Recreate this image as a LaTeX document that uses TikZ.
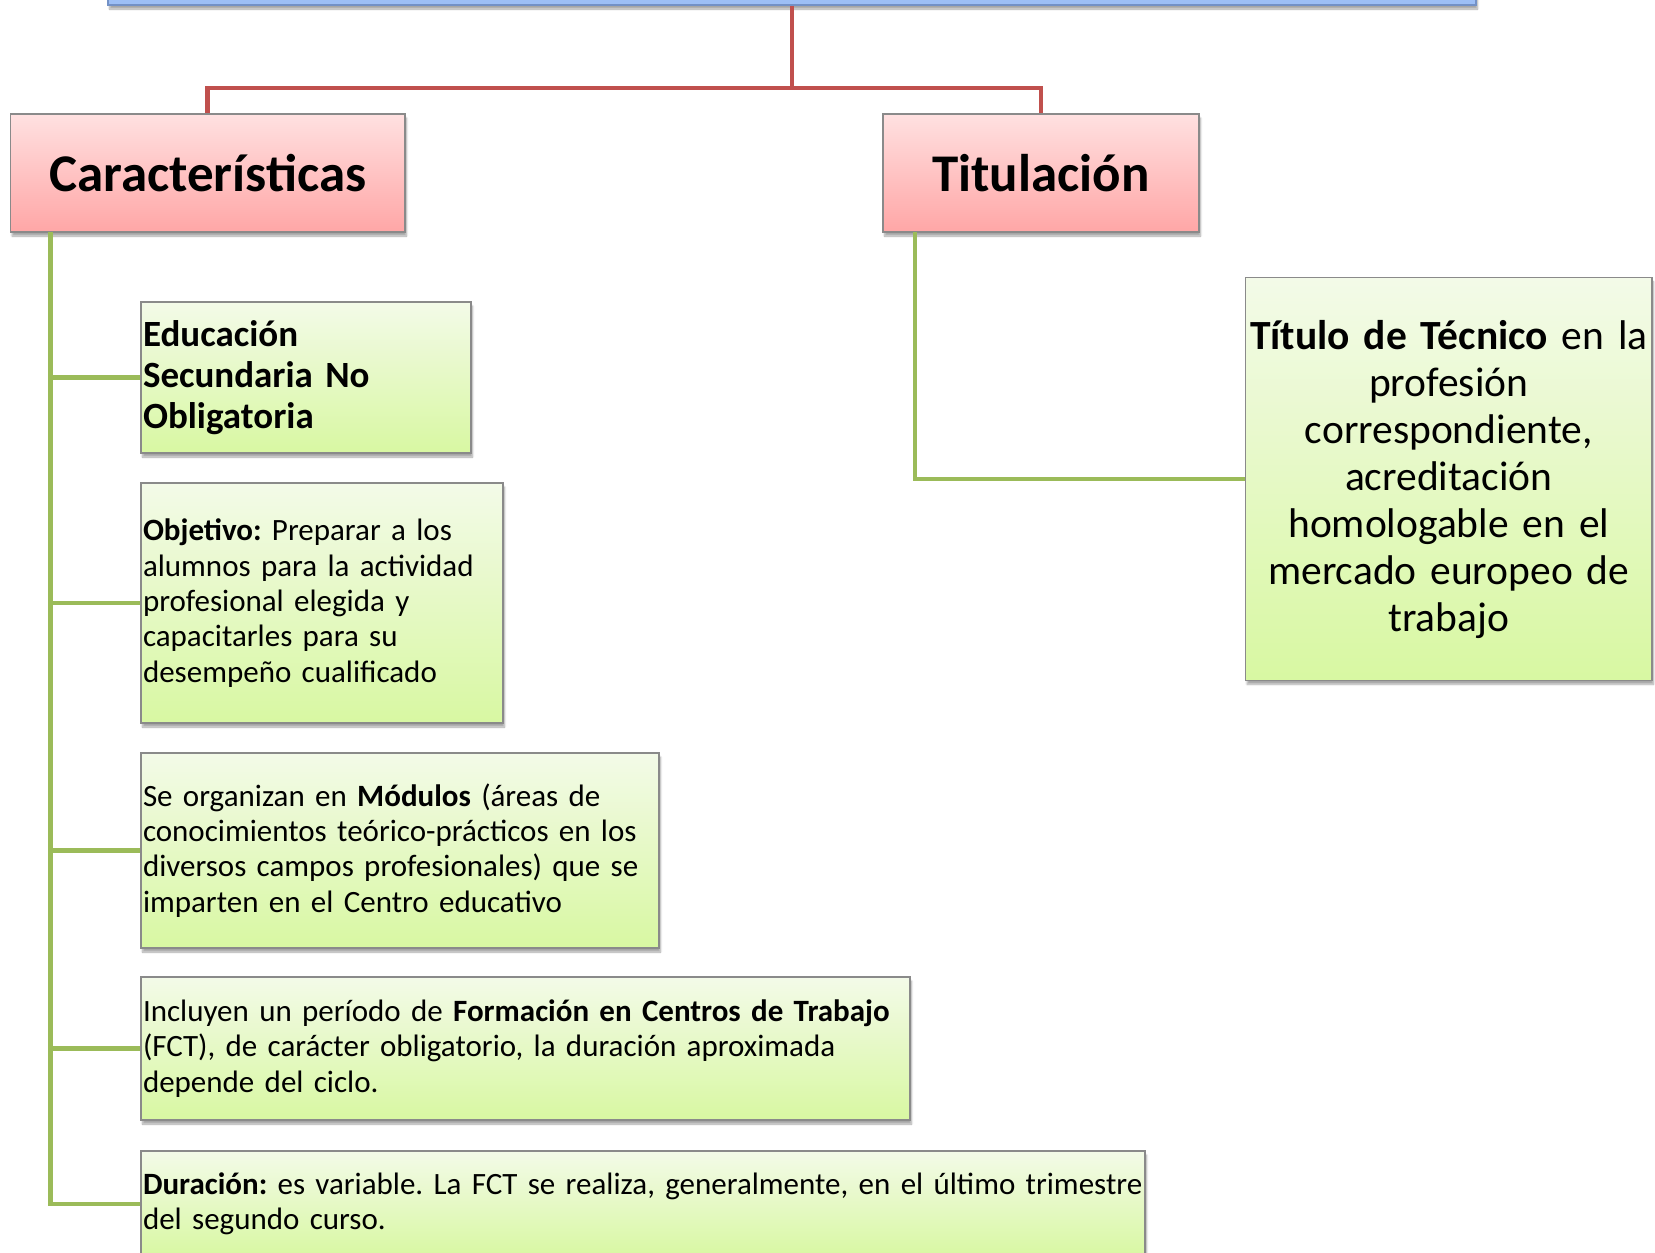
\documentclass[tikz,border=0pt]{standalone}
\usepackage{fontspec}
\setmainfont{Carlito}
\usetikzlibrary{shadows.blur}
\definecolor{redln}{HTML}{C0504D}
\definecolor{greenln}{HTML}{9BBB59}
\definecolor{redtop}{HTML}{FFE1E1}
\definecolor{redbot}{HTML}{FFA6A6}
\definecolor{grtop}{HTML}{F3FAE8}
\definecolor{grbot}{HTML}{D8F8A2}
\definecolor{bluefill}{HTML}{9DBFF6}
\definecolor{blueedge}{HTML}{7391C6}
\definecolor{boxedge}{HTML}{8A8A8A}
\frenchspacing
\hyphenpenalty=10000
\exhyphenpenalty=10000
\tikzset{
  shad/.style={blur shadow={shadow xshift=1.5pt, shadow yshift=-4pt, shadow blur steps=6, shadow opacity=35}},
  rbox/.style={draw=boxedge, line width=1.2pt, top color=redtop, bottom color=redbot, shad,
    inner sep=0pt, align=center, font=\fontsize{53}{60}\selectfont\bfseries},
  gbox/.style={draw=boxedge, line width=1.2pt, top color=grtop, bottom color=grbot, shad,
    inner xsep=2pt, inner ysep=0pt, align=left, font=\fontsize{31}{35.3}\selectfont},
  redline/.style={draw=redln, line width=4.8pt},
  greenline/.style={draw=greenln, line width=4.8pt},
}
\begin{document}
\begin{tikzpicture}[x=1pt, y=-1pt]
\useasboundingbox (0,0) rectangle (1655,1253);
\begin{scope}
\clip (0,0) rectangle (1655,1253);
% top (cut off) box
\node[draw=blueedge, line width=1.5pt, fill=bluefill, shad, minimum width=1368pt, minimum height=60pt, inner sep=0pt] (top) at (792,-25) {};

% level 1
\node[rbox, minimum width=394.5pt, minimum height=118pt] (car) at (207.75,173) {Características};
\node[rbox, minimum width=316pt, minimum height=118pt] (tit) at (1041,173) {Titulación};

% right box
\node[gbox, align=center, text width=402.5pt, minimum height=402.5pt, font=\fontsize{41.5}{47}\selectfont] (tb) at (1448.75,479)
  {\textbf{Título de Técnico} en la\\profesión\\correspondiente,\\acreditación\\homologable en el\\mercado europeo de\\trabajo};

% left boxes
\node[gbox, text width=326pt, minimum height=151pt, font=\fontsize{37}{41}\selectfont\bfseries] (b1) at (306,377.5)
  {Educación\\Secundaria No\\Obligatoria};
\node[gbox, text width=358pt, minimum height=240pt] (b2) at (322,603)
  {\textbf{Objetivo:} Preparar a los\\alumnos para la actividad\\profesional elegida y\\capacitarles para su\\desempeño cualificado};
\node[gbox, text width=514pt, minimum height=195pt] (b3) at (400,850.5)
  {Se organizan en \textbf{Módulos} (áreas de\\conocimientos teórico-prácticos en los\\diversos campos profesionales) que se\\imparten en el Centro educativo};
\node[gbox, text width=765pt, minimum height=143pt] (b4) at (525.5,1048.5)
  {Incluyen un período de \textbf{Formación en Centros de Trabajo}\\(FCT), de carácter obligatorio, la duración aproximada\\depende del ciclo.};
\node[gbox, text width=1000pt, minimum height=106pt] (b5) at (643,1204)
  {\textbf{Duración:} es variable. La FCT se realiza, generalmente, en el último trimestre\\del segundo curso.};

% red connectors
\coordinate (j) at (792,88);
\draw[redline] (top.south) -- (j);
\draw[redline] (j) -| (car.north);
\draw[redline] (j) -| (tit.north);

% green connectors
\coordinate (g0) at (50.7,232);
\draw[greenline] (g0) |- (b5.west);
\foreach \b in {b1,b2,b3,b4}{
  \draw[greenline] (g0 |- \b.west) -- (\b.west);
}
\coordinate (t0) at (915,232);
\draw[greenline] (t0) |- (tb.west);
\end{scope}
\end{tikzpicture}
\end{document}
